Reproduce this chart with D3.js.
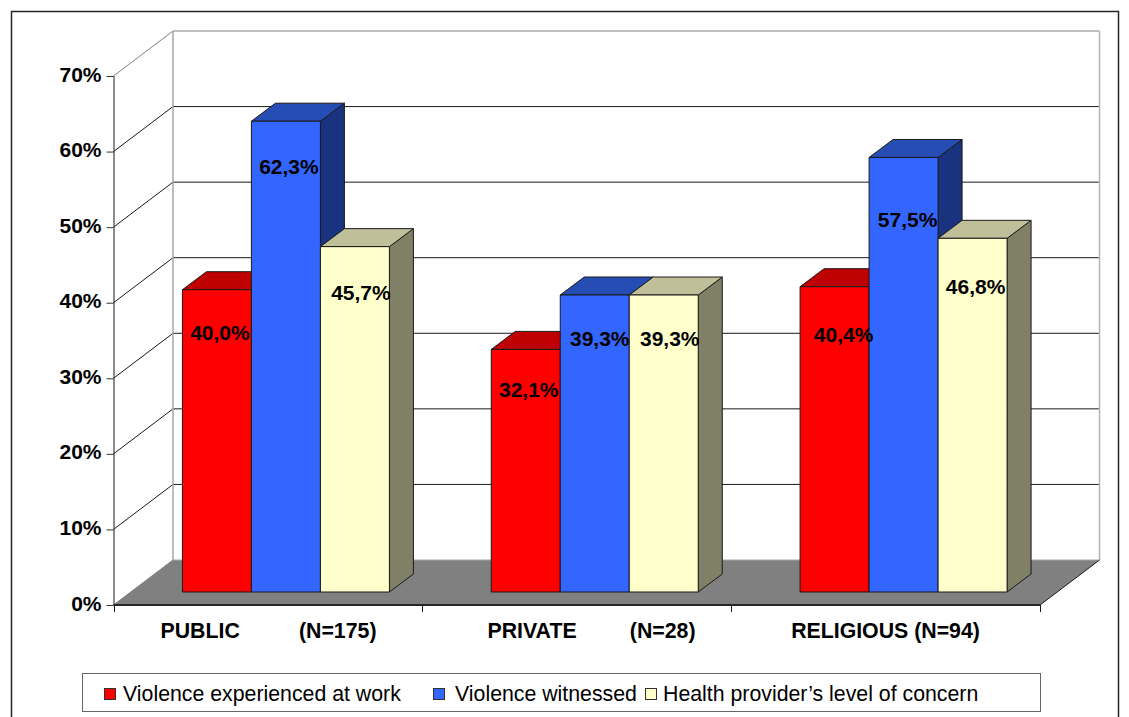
<!DOCTYPE html>
<html><head><meta charset="utf-8">
<script src="https://cdn.jsdelivr.net/npm/d3@7"></script>
<style>html,body{margin:0;padding:0;background:#fff}svg{display:block}text{font-family:"Liberation Sans",Arial,sans-serif;fill:#000}</style>
</head><body><svg id="c" width="1129" height="717"></svg>
<script>
const categories = ["PUBLIC          (N=175)", "PRIVATE         (N=28)", "RELIGIOUS (N=94)"];
const seriesNames = ["Violence experienced at work", "Violence witnessed", "Health provider\u2019s level of concern"];
const work = [40.0, 32.1, 40.4];
const witnessed = [62.3, 39.3, 57.5];
const concern = [45.7, 39.3, 46.8];
const ticks = [0, 10, 20, 30, 40, 50, 60, 70];
const faceColors = ["#ff0000", "#3366ff", "#ffffcc"];
const topColors = ["#bf0000", "#264db3", "#bfbf99"];
const sideColors = ["#bf0000", "#1a3380", "#808066"];
// hand-placed label nudges [dx, dy] relative to the bar's top centre
const labelNudge = [
  [[3,43],[3,45],[6,46]],
  [[3,40],[5,44],[6,44]],
  [[9,48],[4,62],[3,48]]
];

const svg = d3.select("#c");
const series = [work, witnessed, concern];
const fmt = v => v.toFixed(1).replace(".", ",") + "%";

const x0 = 113.5, x1 = 1040, yBase = 605, yTop = 76;
const wallDx = 59.5, wallDy = -45;
const y = d3.scaleLinear().domain([0, 70]).range([yBase, yTop]);
const x = d3.scaleBand().domain(d3.range(categories.length)).range([x0, x1]);
const barW = 69, gap = (x.bandwidth() - barW * 3) / 2;
const inner = d3.scaleBand().domain(d3.range(3)).range([0, barW * 3]);
const floorDx = 18, floorDy = -13;
const bDx = 24, bDy = -18;

// floor
svg.append("path")
  .attr("d", d3.line()([[x0, yBase],[x0+wallDx, yBase+wallDy],[x1+wallDx, yBase+wallDy],[x1, yBase]]) + "Z")
  .attr("fill", "#808080");

// back wall + gridlines
const grid = svg.append("g");
ticks.forEach(t => {
  const yy = y(t);
  if (t > 0) {
    grid.append("line").attr("x1", x0+wallDx).attr("x2", x1+wallDx).attr("y1", yy+wallDy).attr("y2", yy+wallDy)
      .attr("stroke", t === 70 ? "#808080" : "#1a1a1a").attr("stroke-width", 1);
    grid.append("line").attr("x1", x0).attr("x2", x0+wallDx).attr("y1", yy).attr("y2", yy+wallDy)
      .attr("stroke", t === 70 ? "#808080" : "#1a1a1a").attr("stroke-width", 1);
  }
});
grid.append("line").attr("x1", x0+wallDx).attr("x2", x0+wallDx).attr("y1", y(70)+wallDy).attr("y2", y(0)+wallDy).attr("stroke", "#a6a6a6").attr("stroke-width", 1.5);
grid.append("line").attr("x1", x1+wallDx).attr("x2", x1+wallDx).attr("y1", y(70)+wallDy).attr("y2", y(0)+wallDy).attr("stroke", "#b3b3b3").attr("stroke-width", 1.5);
grid.append("line").attr("x1", x0+wallDx).attr("x2", x1+wallDx).attr("y1", y(0)+wallDy).attr("y2", y(0)+wallDy).attr("stroke", "#a6a6a6");
grid.append("line").attr("x1", x1).attr("x2", x1+wallDx).attr("y1", yBase).attr("y2", yBase+wallDy).attr("stroke", "#1a1a1a");
grid.append("line").attr("x1", x0).attr("x2", x0+wallDx).attr("y1", yBase).attr("y2", yBase+wallDy).attr("stroke", "#808080");

// axes
const yAxis = d3.axisLeft(y).tickValues(ticks).tickSize(7).tickFormat(d => d + "%");
const gy = svg.append("g").attr("transform", `translate(${x0},0)`).call(yAxis);
gy.selectAll("path").attr("d", `M0.5,${yBase}V${yTop}`).attr("stroke", "#1a1a1a");
gy.selectAll("line").attr("stroke", "#333");
gy.selectAll("text").attr("x", -12).attr("y", 5).attr("dy", 0).attr("font-size", 21).attr("font-weight", "bold").style("font-family", '"Liberation Sans",Arial,sans-serif');

const gx = svg.append("g");
d3.range(categories.length + 1).forEach(i => {
  const xx = i < categories.length ? x(i) : x1;
  gx.append("line").attr("x1", Math.round(xx)+.5).attr("x2", Math.round(xx)+.5).attr("y1", yBase).attr("y2", yBase+7).attr("stroke", "#1a1a1a");
});
gx.append("line").attr("x1", x0).attr("x2", x1).attr("y1", yBase).attr("y2", yBase).attr("stroke", "#262626").attr("stroke-width", 2);
const catX = [268.5, 591.5, 885.5];
categories.forEach((c, i) => {
  gx.append("text").attr("x", catX[i]).attr("y", 638).attr("text-anchor", "middle")
    .attr("font-size", 21.3).attr("font-weight", "bold").style("white-space", "pre").text(c);
});

// bars (drawn in order so later bars overlap earlier sides)
categories.forEach((c, ci) => {
  const left = x(ci) + gap;
  series.forEach((s, si) => {
    const xa = left + inner(si) + floorDx, xb = xa + inner.bandwidth();
    const yb = y(0) + floorDy, yt = y(s[ci]) + floorDy;
    const g = svg.append("g");
    const st = {stroke: "#1a1a1a", "stroke-width": 1, "stroke-linejoin": "miter"};
    const poly = (pts, f) => { const p = g.append("path").attr("d", d3.line()(pts) + "Z").attr("fill", f); Object.entries(st).forEach(([k,v]) => p.attr(k,v)); };
    poly([[xb,yt],[xb+bDx,yt+bDy],[xb+bDx,yb+bDy],[xb,yb]], sideColors[si]);
    poly([[xa,yt],[xa+bDx,yt+bDy],[xb+bDx,yt+bDy],[xb,yt]], topColors[si]);
    poly([[xa,yt],[xb,yt],[xb,yb],[xa,yb]], faceColors[si]);
  });
});
// data labels on top
categories.forEach((c, ci) => {
  const left = x(ci) + gap + floorDx;
  series.forEach((s, si) => {
    const n = labelNudge[ci][si];
    svg.append("text").attr("x", left + inner(si) + inner.bandwidth()/2 + n[0]).attr("y", y(s[ci]) + floorDy + n[1])
      .attr("dy", "0.35em").attr("text-anchor", "middle").attr("font-size", 21).attr("font-weight", "bold").text(fmt(s[ci]));
  });
});

// legend
svg.append("rect").attr("x", 82.5).attr("y", 673.5).attr("width", 958).attr("height", 38).attr("fill", "#fff").attr("stroke", "#666");
const legX = [104.5, 433.5, 645.5];
const legT = [123, 455, 663];
seriesNames.forEach((n, i) => {
  svg.append("rect").attr("x", legX[i]).attr("y", 688.5).attr("width", 11).attr("height", 11).attr("fill", faceColors[i]).attr("stroke", "#333");
  svg.append("text").attr("x", legT[i]).attr("y", 701).attr("font-size", 21.3).text(n);
});

// outer frame
svg.append("path").attr("d", "M11.5,717V11.5H1118.5V717").attr("fill", "none").attr("stroke", "#262626").attr("stroke-width", 1.5);
</script></body></html>
